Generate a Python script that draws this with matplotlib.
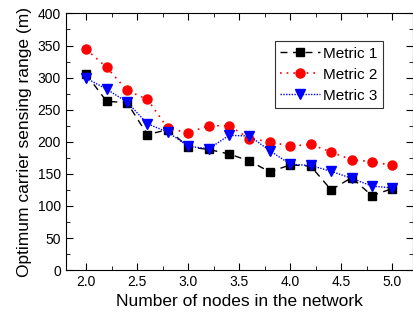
import matplotlib
matplotlib.use("Agg")
from matplotlib import pyplot as plt
from matplotlib.ticker import MultipleLocator
import numpy as np

plt.rcParams['font.family'] = ['Liberation Sans', 'DejaVu Sans']

nodes = [2.0, 2.2, 2.4, 2.6, 2.8, 3.0, 3.2, 3.4, 3.6, 3.8, 4.0, 4.2, 4.4, 4.6, 4.8, 5.0]
metric1 = [305, 263, 261, 211, 219, 192, 188, 181, 170, 153, 164, 162, 125, 144, 116, 127]
metric2 = [344, 316, 280, 266, 221, 214, 225, 225, 205, 200, 193, 196, 184, 172, 169, 163]
metric3 = [299, 282, 262, 228, 215, 193, 189, 210, 209, 186, 165, 163, 154, 143, 131, 128]

fig = plt.figure(figsize=(4.14, 3.2), dpi=100)
ax = fig.add_axes([0.159, 0.156, 0.838, 0.802])

ax.plot(nodes, metric1, color='black', linestyle=(0, (5, 4)), linewidth=1,
        marker='s', markersize=6, label='Metric 1')
ax.plot(nodes, metric2, color='red', linestyle=(0, (1, 3)), linewidth=1.2,
        marker='o', markersize=6.5, label='Metric 2')
ax.plot(nodes, metric3, color='blue', linestyle=(0, (1, 1)), linewidth=1,
        marker='v', markersize=6.5, label='Metric 3')

ax.set_xlim(1.8, 5.2)
ax.set_ylim(0, 400)
ax.xaxis.set_major_locator(MultipleLocator(0.5))
ax.xaxis.set_minor_locator(MultipleLocator(0.25))
ax.yaxis.set_major_locator(MultipleLocator(50))
ax.yaxis.set_minor_locator(MultipleLocator(25))
ax.tick_params(which='both', direction='in', top=True, right=True, labelsize=10)
ax.tick_params(which='major', length=5)
ax.tick_params(which='minor', length=3)
ax.xaxis.set_major_formatter(matplotlib.ticker.FormatStrFormatter('%.1f'))

ax.set_xlabel('Number of nodes in the network', fontsize=12.5)
ax.set_ylabel('Optimum carrier sensing range (m)', fontsize=12.5)

leg = ax.legend(loc='upper right', bbox_to_anchor=(0.913, 0.891), fontsize=11,
                fancybox=False, edgecolor='#333333', framealpha=1,
                handlelength=2.6, borderpad=0.35, labelspacing=0.45,
                handletextpad=0.2, borderaxespad=0)
leg.get_frame().set_linewidth(0.8)

fig.savefig('out.png', dpi=100)
